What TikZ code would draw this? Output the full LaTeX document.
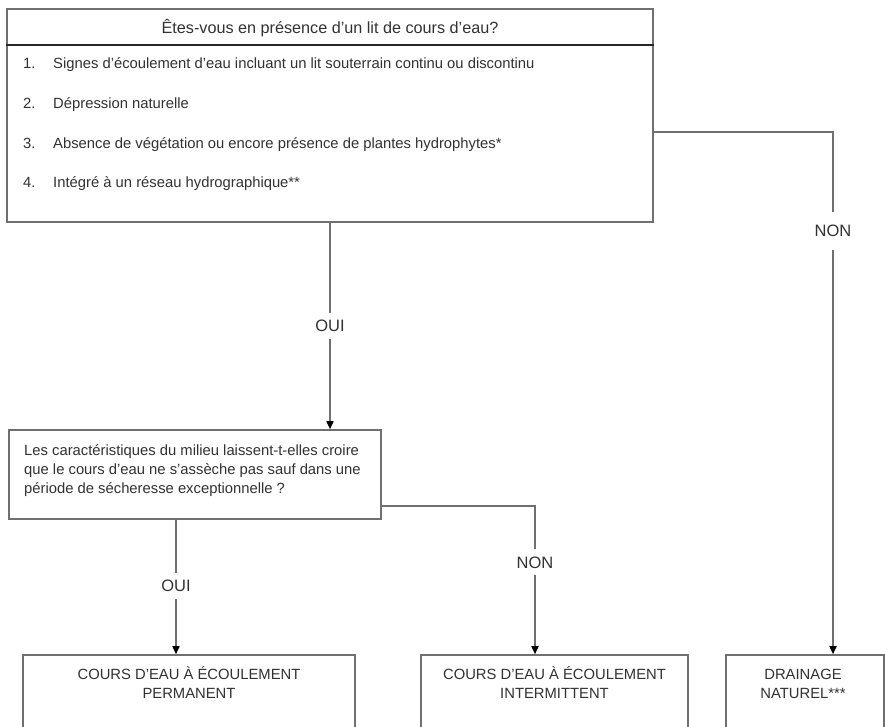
\documentclass[tikz,border=0pt]{standalone}
\usepackage{fontspec}
\setmainfont{Liberation Sans}
\usetikzlibrary{arrows.meta}

\definecolor{boxgray}{RGB}{112,112,112}
\definecolor{txtgray}{RGB}{50,50,50}

\tikzset{
  box/.style={draw=boxgray, line width=1.6pt, rectangle, inner sep=0pt, fill=white},
  txt/.style={text=txtgray, font=\fontsize{14.8}{19}\selectfont, inner sep=0pt},
  branch/.style={draw=boxgray, line width=1.6pt},
  arrow/.style={branch, -{Triangle[length=8pt, width=7pt, color=black]}},
  answer/.style={txt, font=\fontsize{16.5}{19}\selectfont, fill=white, inner xsep=2pt, inner ysep=7pt}
}

\begin{document}
\begin{tikzpicture}[x=1pt, y=-1pt]

    \path[clip] (0,0) rectangle (885,726);

    % Question 1
    \node[box, minimum width=646pt, minimum height=213pt] (q1) at (330,115.5) {};
    \node[txt, font=\fontsize{16.2}{19}\selectfont, anchor=base] (q1title) at (330,33) {Êtes-vous en présence d'un lit de cours d'eau?};
    \draw[line width=2.4pt, black!85] (q1.west |- 0,45) -- (q1.east |- 0,45);
    \foreach \n/\y/\t in {1/68/{Signes d'écoulement d'eau incluant un lit souterrain continu ou discontinu},
                          2/108/{Dépression naturelle},
                          3/148/{Absence de végétation ou encore présence de plantes hydrophytes*},
                          4/187/{Intégré à un réseau hydrographique**}} {
        \node[txt, anchor=base west] (num\n) at (23,\y) {\n.};
        \node[txt, anchor=base west] (item\n) at (53,\y) {\t};
    }

    % Question 2
    \node[box, minimum width=372pt, minimum height=89pt] (q2) at (195,474.5) {};
    \node[txt, anchor=base west] (q2text) at (24,455) {\parbox[t]{355pt}{Les caractéristiques du milieu laissent-t-elles croire\\
        que le cours d'eau ne s'assèche pas sauf dans une\\
        période de sécheresse exceptionnelle ?}};

    % Answers
    \node[box, minimum width=332pt, minimum height=100pt] (perm) at (189,705) {};
    \node[txt, anchor=base] (permtext) at (189,679) {\parbox[t]{320pt}{\centering COURS D'EAU À ÉCOULEMENT\\ PERMANENT}};
    \node[box, minimum width=267pt, minimum height=100pt] (inter) at (554.5,705) {};
    \node[txt, anchor=base] (intertext) at (554.5,679) {\parbox[t]{260pt}{\centering COURS D'EAU À ÉCOULEMENT\\ INTERMITTENT}};
    \node[box, minimum width=158pt, minimum height=100pt] (drain) at (805,705) {};
    \node[txt, anchor=base] (draintext) at (803,679) {\parbox[t]{150pt}{\centering DRAINAGE\\ NATUREL***}};

    % Branches
    \coordinate (non1) at (833,132);
    \coordinate (oui2) at (176,0);
    \coordinate (non2) at (535,506);
    \draw[arrow] (q1.south) -- (q1.south |- q2.north) node[answer, pos=0.5] (oui1label) {OUI};
    \draw[arrow] (q1.east |- non1) -- (non1) -- (non1 |- drain.north) node[answer, inner ysep=13pt, pos=0.19] (non1label) {NON};
    \draw[arrow] (q2.south -| oui2) -- (oui2 |- perm.north) node[answer, pos=0.49] (oui2label) {OUI};
    \draw[arrow] (q2.east |- non2) -- (non2) -- (non2 |- inter.north) node[answer, pos=0.38] (non2label) {NON};

\end{tikzpicture}
\end{document}
